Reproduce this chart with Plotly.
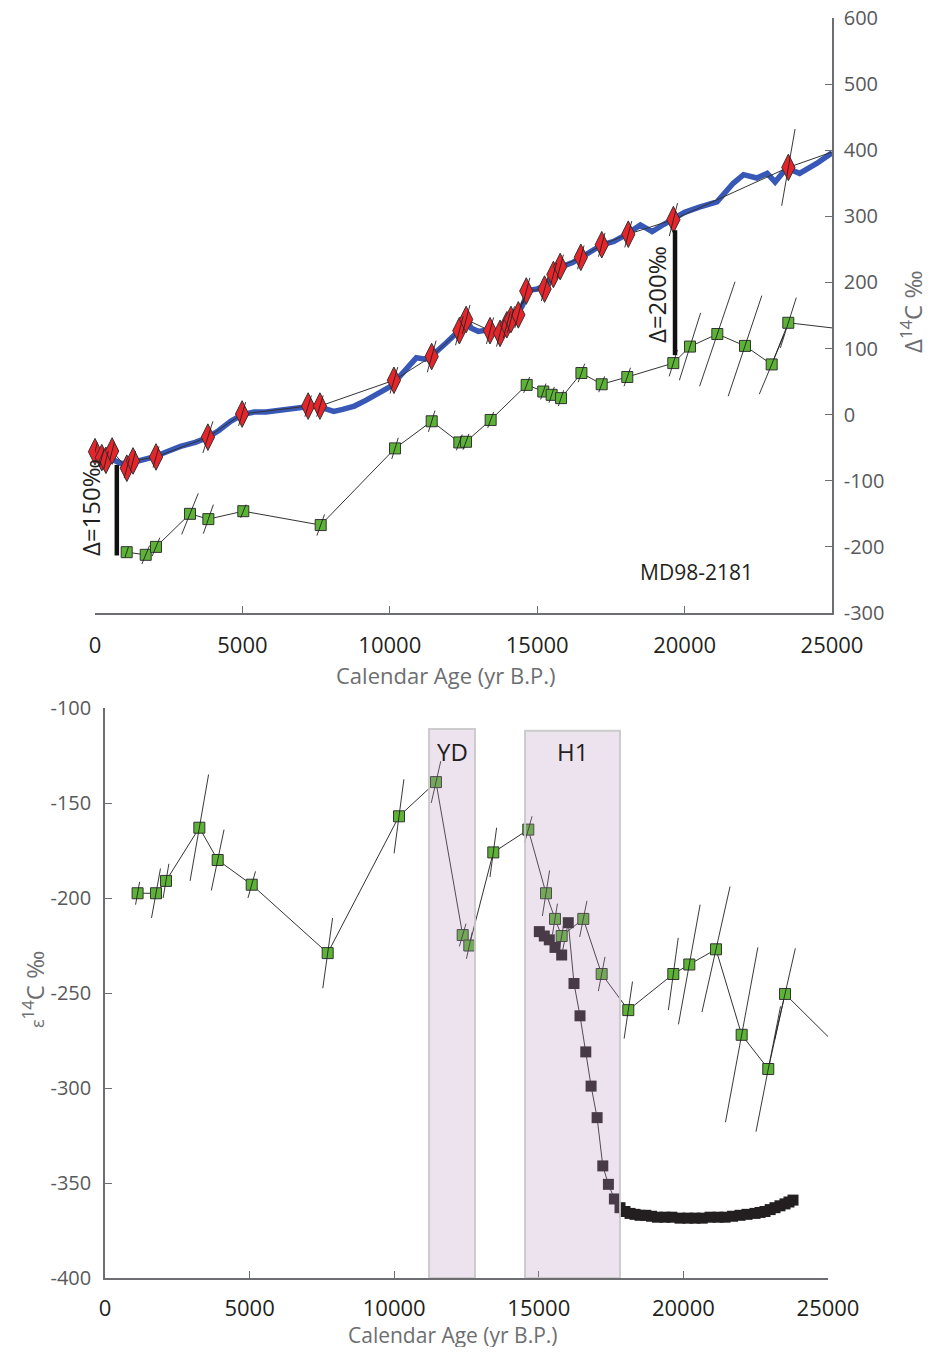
import plotly.graph_objects as go

# ---------------- DATA ----------------
# Top panel: atmospheric Delta14C (blue curve)
atm_age = [0, 300, 600, 900, 1200, 1600, 2000, 2500, 2900, 3400, 3800, 4200, 4600, 5000, 5400,
           5800, 6200, 6600, 7000, 7400, 7800, 8100, 8400, 8800, 9200, 9600, 10000, 10300, 10700,
           10900, 11200, 11500, 11900, 12300, 12600, 12750, 13000, 13300, 13600, 13800, 14000,
           14300, 14500, 14700, 15000, 15300, 15600, 15900, 16200, 16500, 16900, 17200, 17600,
           18000, 18500, 18900, 19300, 19600, 20000, 20500, 21100, 21650, 22000, 22450, 22800,
           23070, 23460, 23900, 24480, 25000]
atm_d14c = [-56, -62, -68, -74, -73, -68, -64, -55, -48, -42, -35, -24, -10, 0, 4,
            4, 6, 8, 10, 13, 9, 5, 8, 13, 22, 32, 42, 56, 76,
            86, 84, 92, 108, 125, 148, 131, 126, 128, 122, 124, 137,
            150, 165, 188, 190, 196, 213, 225, 230, 238, 248, 257, 262,
            272, 287, 277, 288, 295, 306, 314, 322, 350, 363, 358, 365,
            352, 373, 365, 380, 396]

# Top panel: atmospheric Delta14C at sample ages (red diamonds)
red_age = [0, 230, 370, 580, 1080, 1290, 2070, 3830, 4990, 7230, 7630, 10140, 11420, 12360,
           12590, 13400, 13740, 13970, 14110, 14360, 14630, 15250, 15550, 15780, 16480, 17190,
           18090, 19620, 23520]
red_d14c = [-56, -65, -69, -55, -81, -70, -64, -34, 1, 13, 13, 52, 88, 127,
            144, 127, 123, 136, 144, 151, 187, 190, 212, 224, 238, 257,
            273, 295, 374]
red_err_age = [80, 80, 80, 80, 90, 90, 100, 170, 120, 110, 110, 130, 150, 130,
               130, 120, 120, 120, 120, 120, 120, 110, 110, 110, 110, 110,
               120, 140, 227]
red_err_d14c = [14, 14, 14, 14, 15, 15, 16, 24, 18, 16, 16, 20, 24, 22,
                22, 20, 20, 20, 20, 20, 20, 18, 18, 18, 18, 18,
                20, 25, 58]
red_tail = (26000, 413)

# Top panel: benthic Delta14C (green squares)
ben_age = [1075, 1720, 2069, 3222, 3845, 5031, 7656, 10177, 11421, 12358, 12585, 13421, 14643,
           15207, 15490, 15808, 16500, 17188, 18056, 19617, 20183, 21110, 22049, 22954, 23518]
ben_d14c = [-208, -212, -200, -150, -158, -146, -167, -51, -10, -42, -41, -8, 45,
            35, 30, 25, 63, 46, 57, 78, 103, 122, 104, 76, 139]
ben_err_age = [60, 130, 130, 280, 170, 90, 130, 110, 110, 100, 100, 100, 100,
               90, 90, 90, 110, 100, 110, 140, 360, 600, 570, 420, 270]
ben_err_d14c = [8, 14, 14, 31, 22, 10, 16, 16, 16, 12, 12, 12, 12,
                12, 12, 12, 14, 12, 14, 20, 51, 79, 76, 45, 38]
ben_tail = (26000, 126)

# Bottom panel: epsilon14C (green squares)
eps_age = [1127, 1763, 2109, 3262, 3897, 5073, 7700, 10166, 11445, 12368, 12597, 13427, 14637,
           15249, 15560, 15791, 16539, 17174, 18095, 19651, 20204, 21127, 22015, 22935, 23513]
eps_val = [-197.5, -197.5, -191, -163, -180, -193, -229, -157, -139, -219.5, -225, -176, -164,
           -197.5, -211, -220, -211, -240, -259, -240, -235, -227, -272, -290, -250.5]
eps_err_age = [70, 155, 100, 320, 220, 130, 170, 170, 165, 115, 100, 115, 130,
               125, 85, 80, 125, 115, 145, 170, 375, 485, 560, 425, 358]
eps_err_val = [6, 13, 9, 28, 16, 7, 18.5, 19.5, 11, 6, 7, 13, 7,
               12, 8, 7, 9.5, 9, 15, 19, 31.5, 33, 46, 33, 24]
eps_tail = (26000, -288)

# Bottom panel: dark squares series
dark_age = [15018, 15190, 15363, 15560, 15791, 16019, 16217, 16425, 16625, 16808, 17016, 17213,
            17407, 17614, 17808, 17981, 18154, 18327, 18500, 18700, 18900, 19100, 19364, 19600,
            19883, 20150, 20401, 20650, 20920, 21200, 21439, 21700, 21957, 22200, 22476, 22650,
            22822, 23000, 23168, 23340, 23513, 23650, 23790]
dark_val = [-217.7, -220, -222, -226, -230, -213, -245, -262, -281, -299, -315.6, -341,
            -350.7, -358.4, -363, -365, -366, -366.5, -367, -367, -367.5, -368, -368, -368,
            -368.5, -368.5, -368.5, -368.5, -368, -368, -368, -367.5, -367, -366.5, -366, -365.5,
            -365, -364, -363, -362, -361, -360, -359]

# Shaded intervals (name, start, end, top)
periods = [("YD", 11203, 12794, -111), ("H1", 14523, 17808, -112)]

# Delta bars (label, age, top, bottom)
delta_marks = [("Δ=150‰", 740, -76, -213), ("Δ=200‰", 19675, 279, 90)]
# label centres in page pixels (x, y)
delta_label_px = [(91, 508), (656, 295)]

x_ticks = [0, 5000, 10000, 15000, 20000, 25000]
top_y_ticks = [-300, -200, -100, 0, 100, 200, 300, 400, 500, 600]
bot_y_ticks = [-400, -350, -300, -250, -200, -150, -100]

# ---------------- STYLE ----------------
PAGE_W, PAGE_H = 937, 1355
OFF = 8  # page body margin
W, H = PAGE_W - 2 * OFF, PAGE_H - 2 * OFF
FONT = "Open Sans"
DARK = "#231f20"
GREY = "#58595b"
AXC = "#6d6e71"
GREEN = "#5cb336"
RED = "#e8242b"
BLUE = "#3858b8"


def px_x(p):
    return (p - OFF) / W


def px_y(p):
    return 1 - (p - OFF) / H


def segments(xs, ys, dxs, dys):
    sx, sy = [], []
    for x, y, dx, dy in zip(xs, ys, dxs, dys):
        sx += [x - dx, x + dx, None]
        sy += [y - dy, y + dy, None]
    return sx, sy


def labels(vals):
    return [str(v) for v in vals]


fig = go.Figure()

# ---- top panel ----
fig.add_trace(go.Scatter(x=atm_age, y=atm_d14c, mode="lines",
                         line=dict(color=BLUE, width=5.5), xaxis="x", yaxis="y"))
fig.add_trace(go.Scatter(x=red_age + [red_tail[0]], y=red_d14c + [red_tail[1]], mode="lines",
                         line=dict(color="#333333", width=1), xaxis="x", yaxis="y"))
fig.add_trace(go.Scatter(x=ben_age + [ben_tail[0]], y=ben_d14c + [ben_tail[1]], mode="lines",
                         line=dict(color="#333333", width=1), xaxis="x", yaxis="y"))
fig.add_trace(go.Scatter(x=red_age, y=red_d14c, mode="markers", cliponaxis=False,
                         marker=dict(symbol="diamond-tall", size=19, color=RED,
                                     line=dict(color="#333333", width=1)),
                         xaxis="x", yaxis="y"))
fig.add_trace(go.Scatter(x=ben_age, y=ben_d14c, mode="markers", cliponaxis=False,
                         marker=dict(symbol="square", size=11, color=GREEN,
                                     line=dict(color="#333333", width=1)),
                         xaxis="x", yaxis="y"))
sx, sy = segments(red_age, red_d14c, red_err_age, red_err_d14c)
fig.add_trace(go.Scatter(x=sx, y=sy, mode="lines", line=dict(color="#222222", width=0.9),
                         xaxis="x", yaxis="y"))
sx, sy = segments(ben_age, ben_d14c, ben_err_age, ben_err_d14c)
fig.add_trace(go.Scatter(x=sx, y=sy, mode="lines", line=dict(color="#222222", width=0.9),
                         xaxis="x", yaxis="y"))
for lab, ax, ytop, ybot in delta_marks:
    fig.add_trace(go.Scatter(x=[ax, ax], y=[ytop, ybot], mode="lines",
                             line=dict(color="#111111", width=4.5), xaxis="x", yaxis="y"))

# ---- bottom panel ----
fig.add_trace(go.Scatter(x=eps_age + [eps_tail[0]], y=eps_val + [eps_tail[1]], mode="lines",
                         line=dict(color="#333333", width=1), xaxis="x2", yaxis="y2"))
fig.add_trace(go.Scatter(x=dark_age, y=dark_val, mode="lines+markers",
                         line=dict(color="#333333", width=1),
                         marker=dict(symbol="square", size=11, color=DARK),
                         xaxis="x2", yaxis="y2"))
fig.add_trace(go.Scatter(x=eps_age, y=eps_val, mode="markers",
                         marker=dict(symbol="square", size=11, color=GREEN,
                                     line=dict(color="#333333", width=1)),
                         xaxis="x2", yaxis="y2"))
sx, sy = segments(eps_age, eps_val, eps_err_age, eps_err_val)
fig.add_trace(go.Scatter(x=sx, y=sy, mode="lines", line=dict(color="#222222", width=0.9),
                         xaxis="x2", yaxis="y2"))

shapes = []
annotations = []
for name, x0, x1, ytop in periods:
    shapes.append(dict(type="rect", xref="x2", yref="y2", x0=x0, x1=x1, y0=-400, y1=ytop,
                       fillcolor="rgba(183,143,187,0.25)", layer="above",
                       line=dict(color="rgba(200,200,200,0.9)", width=2)))
    annotations.append(dict(xref="x2", yref="y2", x=(x0 + x1) / 2, y=-123, text=name,
                            xanchor="center", yanchor="middle",
                            showarrow=False, font=dict(family=FONT, size=24, color=DARK)))

for (lab, ax, ytop, ybot), (px, py) in zip(delta_marks, delta_label_px):
    annotations.append(dict(xref="paper", yref="paper", x=px_x(px), y=px_y(py), text=lab,
                            textangle=-90, showarrow=False, xanchor="center", yanchor="middle",
                            font=dict(family=FONT, size=24, color=DARK)))


def page_text(px, py, text, size, color, angle=0):
    return dict(xref="paper", yref="paper", x=px_x(px), y=px_y(py), text=text,
                textangle=angle, showarrow=False, xanchor="center", yanchor="middle",
                font=dict(family=FONT, size=size, color=color))


annotations += [
    page_text(696, 572, "MD98-2181", 21, DARK),
    page_text(446, 675, "Calendar Age (yr B.P.)", 22, "#6d6e71"),
    page_text(453, 1335, "Calendar Age (yr B.P.)", 21, "#6d6e71"),
    page_text(911, 312, "Δ<sup>14</sup>C ‰", 24, "#6d6e71", -90),
    page_text(33, 990, "<span style='font-size:18px'>ε</span><sup>14</sup>C ‰", 24, "#6d6e71", -90),
]

axis_common = dict(showgrid=False, zeroline=False, showline=True, linecolor=AXC, linewidth=1.5,
                   ticks="inside", ticklen=7, tickwidth=1.3, tickcolor=AXC, automargin=False,
                   ticklabeloverflow="allow")

fig.update_layout(
    width=W, height=H, showlegend=False,
    paper_bgcolor="white", plot_bgcolor="white",
    margin=dict(l=0, r=0, t=0, b=0, pad=0),
    font=dict(family=FONT),
    xaxis=dict(domain=[px_x(95), px_x(832)], range=[0, 25000], anchor="y",
               tickvals=x_ticks, ticktext=labels(x_ticks),
               tickfont=dict(size=22, color=DARK), ticklabelstandoff=12, **axis_common),
    yaxis=dict(domain=[px_y(613), px_y(18)], range=[-300, 600], anchor="x",
               side="right", tickvals=top_y_ticks, ticktext=labels(top_y_ticks),
               tickfont=dict(size=20, color=GREY), ticklabelstandoff=6, **axis_common),
    xaxis2=dict(domain=[px_x(105), px_x(828)], range=[0, 25000], anchor="y2",
                tickvals=x_ticks, ticktext=labels(x_ticks),
                tickfont=dict(size=22, color=DARK), ticklabelstandoff=10, **axis_common),
    yaxis2=dict(domain=[px_y(1278), px_y(708)], range=[-400, -100], anchor="x2",
                tickvals=bot_y_ticks, ticktext=labels(bot_y_ticks),
                tickfont=dict(size=20, color=GREY), ticklabelstandoff=8, **axis_common),
    shapes=shapes,
    annotations=annotations,
)

fig.write_html("out.html")
